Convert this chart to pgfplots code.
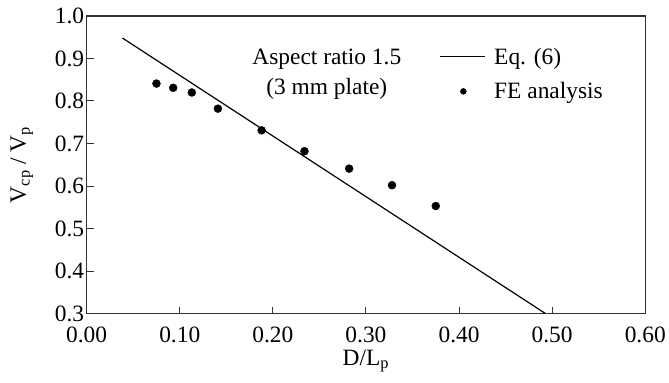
\documentclass[border=0pt]{standalone}
\usepackage{fontspec}
\setmainfont{Liberation Serif}
\usepackage{pgfplots}
\pgfplotsset{compat=1.18}
\usetikzlibrary{calc}
\newcommand{\bigf}{\fontsize{23.5bp}{30bp}\selectfont}
\pgfplotsset{
  lineleg/.style={legend image code/.code={\path[draw=none, fill=none] (0cm,0cm) -- (52bp,0cm); \draw[black, line width=1.2bp] (0cm,0cm) -- (45bp,0cm);}},
  dotleg/.style={legend image code/.code={\path[draw=none, fill=none] (0cm,0cm) -- (52bp,0cm); \fill[black] (23bp,0cm) circle (3bp);}},
}
\begin{document}
\begin{tikzpicture}
\begin{axis}[
  scale only axis,
  width=561bp, height=299bp,
  xmin=0, xmax=0.6, ymin=0.3, ymax=1.0,
  xtick={0,0.1,...,0.6}, ytick={0.3,0.4,...,1.0},
  xticklabel style={yshift=-10bp, /pgf/number format/fixed, /pgf/number format/fixed zerofill, /pgf/number format/precision=2},
  yticklabel style={xshift=1bp, /pgf/number format/fixed, /pgf/number format/fixed zerofill, /pgf/number format/precision=1},
  /pgf/number format/assume math mode=true,
  tick align=inside,
  xtick pos=bottom, ytick pos=left,
  major tick length=7bp,
  axis line style={line width=1.3bp, black!80},
  tick style={line width=1bp, black!80},
  font=\bigf,
  tick label style={font=\bigf},
  xlabel={D/L\textsubscript{p}},
  ylabel={V\textsubscript{cp} / V\textsubscript{p}},
  xlabel style={yshift=0bp},
  ylabel style={yshift=15bp},
  legend style={draw=none, fill=none, at={(0.632,0.90)}, anchor=north west,
    font=\bigf, row sep=13bp, inner sep=0pt},
  legend cell align=left,
]
\addlegendimage{lineleg}
\addlegendentry{Eq. (6)}
\addlegendimage{dotleg}
\addlegendentry{FE analysis}
\addplot[black, line width=1.2bp, forget plot] coordinates {(0.0385,0.948) (0.493,0.30)};
\addplot[only marks, mark=*, mark size=4bp, black, forget plot] coordinates {
(0.075,0.841) (0.093,0.831) (0.113,0.820) (0.141,0.782) (0.188,0.731)
(0.234,0.682) (0.282,0.641) (0.328,0.602) (0.375,0.553)};
\node[align=center, font=\bigf] at (axis cs:0.258,0.862) {Aspect ratio 1.5\\(3 mm plate)};
\end{axis}
\path ($(current axis.south west)+(-87bp,-69bp)$) rectangle ($(current axis.north east)+(21bp,16bp)$);
\end{tikzpicture}
\end{document}
